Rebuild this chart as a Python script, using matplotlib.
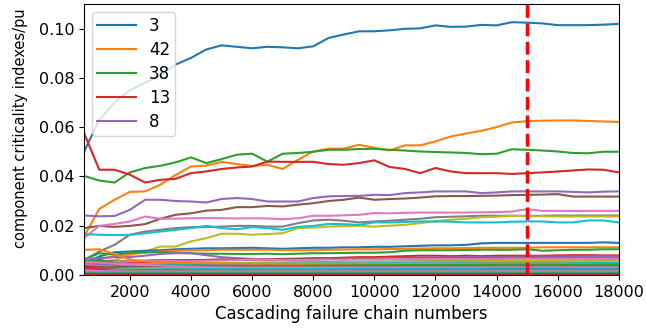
import matplotlib
matplotlib.use("Agg")
import matplotlib.pyplot as plt

# chain numbers (x axis)
chains = list(range(500, 18001, 500))

legend_labels = ['3', '42', '38', '13', '8']

comp_3 = [0.050, 0.063, 0.070, 0.075, 0.078, 0.081, 0.0854, 0.0881, 0.0915, 0.0932,
          0.0926, 0.0920, 0.0926, 0.0924, 0.0920, 0.0928, 0.0962, 0.0976, 0.0989, 0.0989,
          0.0993, 0.0999, 0.1001, 0.1013, 0.1007, 0.1008, 0.1015, 0.1013, 0.1026, 0.1024,
          0.1021, 0.1014, 0.1014, 0.1014, 0.1016, 0.1019]
comp_42 = [0.0155, 0.0268, 0.0305, 0.0337, 0.0339, 0.0366, 0.0406, 0.0440, 0.0444, 0.0459,
           0.0450, 0.0442, 0.0447, 0.0430, 0.0467, 0.0501, 0.0512, 0.0513, 0.0528, 0.0516,
           0.0505, 0.0526, 0.0526, 0.0542, 0.0562, 0.0574, 0.0585, 0.0600, 0.0619, 0.0624,
           0.0626, 0.0627, 0.0627, 0.0625, 0.0623, 0.0621]
comp_38 = [0.0402, 0.0383, 0.0375, 0.0416, 0.0434, 0.0443, 0.0457, 0.0477, 0.0454, 0.0470,
           0.0488, 0.0492, 0.0460, 0.0492, 0.0495, 0.0500, 0.0508, 0.0508, 0.0511, 0.0512,
           0.0508, 0.0505, 0.0501, 0.0499, 0.0497, 0.0495, 0.0490, 0.0492, 0.0510, 0.0508,
           0.0505, 0.0501, 0.0495, 0.0494, 0.0500, 0.0500]
comp_13 = [0.0576, 0.0427, 0.0427, 0.0407, 0.0375, 0.0386, 0.0390, 0.0413, 0.0420, 0.0430,
           0.0436, 0.0440, 0.0460, 0.0459, 0.0459, 0.0459, 0.0450, 0.0447, 0.0454, 0.0465,
           0.0438, 0.0430, 0.0413, 0.0434, 0.0420, 0.0413, 0.0413, 0.0413, 0.0410, 0.0413,
           0.0416, 0.0420, 0.0424, 0.0428, 0.0427, 0.0416]
comp_8 = [0.0241, 0.0238, 0.0239, 0.0264, 0.0305, 0.0305, 0.0300, 0.0298, 0.0294, 0.0308,
          0.0312, 0.0308, 0.0298, 0.0298, 0.0298, 0.0312, 0.0319, 0.0320, 0.0321, 0.0325,
          0.0324, 0.0332, 0.0335, 0.0339, 0.0339, 0.0339, 0.0332, 0.0335, 0.0339, 0.0339,
          0.0339, 0.0339, 0.0337, 0.0335, 0.0338, 0.0339]

# remaining components, in plotting order
other_comps = [
    [0.0190, 0.0199, 0.0195, 0.0199, 0.0206, 0.0228, 0.0244, 0.0250, 0.0261, 0.0264,
     0.0275, 0.0275, 0.0280, 0.0278, 0.0285, 0.0291, 0.0300, 0.0305, 0.0314, 0.0305,
     0.0308, 0.0310, 0.0314, 0.0319, 0.0320, 0.0320, 0.0321, 0.0322, 0.0324, 0.0325,
     0.0326, 0.0328, 0.0318, 0.0318, 0.0318, 0.0318],
    [0.0149, 0.0199, 0.0207, 0.0217, 0.0237, 0.0228, 0.0228, 0.0230, 0.0231, 0.0230,
     0.0229, 0.0230, 0.0229, 0.0226, 0.0230, 0.0240, 0.0240, 0.0242, 0.0244, 0.0251,
     0.0250, 0.0252, 0.0253, 0.0253, 0.0253, 0.0253, 0.0254, 0.0255, 0.0257, 0.0267,
     0.0260, 0.0260, 0.0259, 0.0260, 0.0260, 0.0260],
    [0.0060, 0.0095, 0.0122, 0.0163, 0.0176, 0.0183, 0.0190, 0.0194, 0.0194, 0.0196,
     0.0199, 0.0199, 0.0196, 0.0196, 0.0210, 0.0221, 0.0224, 0.0220, 0.0213, 0.0217,
     0.0220, 0.0224, 0.0228, 0.0234, 0.0236, 0.0238, 0.0240, 0.0240, 0.0240, 0.0240,
     0.0240, 0.0241, 0.0241, 0.0241, 0.0241, 0.0241],
    [0.0047, 0.0054, 0.0060, 0.0081, 0.0095, 0.0115, 0.0115, 0.0136, 0.0149, 0.0167,
     0.0167, 0.0163, 0.0166, 0.0169, 0.0190, 0.0192, 0.0196, 0.0198, 0.0199, 0.0196,
     0.0200, 0.0203, 0.0210, 0.0218, 0.0224, 0.0228, 0.0234, 0.0236, 0.0240, 0.0238,
     0.0238, 0.0237, 0.0237, 0.0237, 0.0237, 0.0237],
    [0.0165, 0.0163, 0.0162, 0.0162, 0.0169, 0.0176, 0.0183, 0.0190, 0.0199, 0.0190,
     0.0185, 0.0194, 0.0190, 0.0183, 0.0195, 0.0199, 0.0207, 0.0206, 0.0203, 0.0213,
     0.0213, 0.0215, 0.0217, 0.0217, 0.0216, 0.0213, 0.0213, 0.0213, 0.0216, 0.0217,
     0.0217, 0.0213, 0.0213, 0.0221, 0.0221, 0.0213],
    [0.0045, 0.0075, 0.0092, 0.0095, 0.0098, 0.0100, 0.0104, 0.0106, 0.0108, 0.0108,
     0.0109, 0.0110, 0.0108, 0.0106, 0.0108, 0.0110, 0.0110, 0.0112, 0.0112, 0.0114,
     0.0114, 0.0116, 0.0118, 0.0120, 0.0120, 0.0122, 0.0128, 0.0130, 0.0130, 0.0130,
     0.0130, 0.0130, 0.0130, 0.0130, 0.0132, 0.0130],
    [0.0050, 0.0065, 0.0075, 0.0085, 0.0090, 0.0095, 0.0098, 0.0100, 0.0100, 0.0102,
     0.0102, 0.0102, 0.0102, 0.0100, 0.0100, 0.0100, 0.0102, 0.0103, 0.0104, 0.0104,
     0.0105, 0.0106, 0.0107, 0.0108, 0.0108, 0.0109, 0.0110, 0.0110, 0.0110, 0.0110,
     0.0112, 0.0112, 0.0112, 0.0112, 0.0112, 0.0112],
    [0.0062, 0.0088, 0.0082, 0.0090, 0.0092, 0.0092, 0.0090, 0.0088, 0.0086, 0.0086,
     0.0085, 0.0085, 0.0086, 0.0084, 0.0086, 0.0088, 0.0088, 0.0089, 0.0090, 0.0090,
     0.0092, 0.0098, 0.0100, 0.0100, 0.0100, 0.0101, 0.0102, 0.0102, 0.0102, 0.0104,
     0.0098, 0.0100, 0.0102, 0.0102, 0.0104, 0.0104],
    [0.0042, 0.0045, 0.0048, 0.0050, 0.0052, 0.0055, 0.0058, 0.0060, 0.0060, 0.0062,
     0.0062, 0.0064, 0.0064, 0.0065, 0.0066, 0.0068, 0.0068, 0.0070, 0.0072, 0.0072,
     0.0074, 0.0076, 0.0078, 0.0078, 0.0076, 0.0078, 0.0076, 0.0078, 0.0078, 0.0078,
     0.0078, 0.0079, 0.0080, 0.0080, 0.0079, 0.0079],
    [0.0065, 0.0068, 0.0072, 0.0072, 0.0078, 0.0085, 0.0088, 0.0088, 0.0080, 0.0072,
     0.0068, 0.0065, 0.0062, 0.0062, 0.0063, 0.0064, 0.0065, 0.0066, 0.0066, 0.0067,
     0.0068, 0.0069, 0.0070, 0.0070, 0.0071, 0.0072, 0.0072, 0.0072, 0.0073, 0.0074,
     0.0074, 0.0074, 0.0075, 0.0075, 0.0075, 0.0075],
    [0.0052, 0.0055, 0.0055, 0.0056, 0.0058, 0.0060, 0.0060, 0.0060, 0.0061, 0.0062,
     0.0062, 0.0062, 0.0063, 0.0063, 0.0064, 0.0064, 0.0065, 0.0065, 0.0066, 0.0066,
     0.0066, 0.0067, 0.0067, 0.0068, 0.0068, 0.0068, 0.0069, 0.0069, 0.0070, 0.0070,
     0.0070, 0.0069, 0.0069, 0.0068, 0.0068, 0.0068],
    [0.0040, 0.0048, 0.0052, 0.0055, 0.0056, 0.0057, 0.0056, 0.0055, 0.0057, 0.0058,
     0.0060, 0.0062, 0.0062, 0.0060, 0.0060, 0.0061, 0.0062, 0.0062, 0.0063, 0.0063,
     0.0064, 0.0064, 0.0064, 0.0065, 0.0065, 0.0065, 0.0065, 0.0065, 0.0066, 0.0066,
     0.0066, 0.0066, 0.0066, 0.0066, 0.0066, 0.0066],
    [0.0030, 0.0035, 0.0038, 0.0040, 0.0042, 0.0043, 0.0044, 0.0045, 0.0046, 0.0047,
     0.0048, 0.0049, 0.0050, 0.0050, 0.0051, 0.0052, 0.0052, 0.0053, 0.0053, 0.0054,
     0.0054, 0.0055, 0.0055, 0.0056, 0.0056, 0.0057, 0.0057, 0.0058, 0.0058, 0.0058,
     0.0058, 0.0058, 0.0058, 0.0058, 0.0058, 0.0058],
    [0.0020, 0.0028, 0.0035, 0.0038, 0.0040, 0.0042, 0.0044, 0.0045, 0.0046, 0.0047,
     0.0048, 0.0048, 0.0049, 0.0049, 0.0050, 0.0050, 0.0051, 0.0051, 0.0052, 0.0052,
     0.0053, 0.0053, 0.0054, 0.0054, 0.0055, 0.0055, 0.0056, 0.0056, 0.0057, 0.0057,
     0.0057, 0.0057, 0.0056, 0.0056, 0.0056, 0.0056],
    [0.0035, 0.0038, 0.0040, 0.0041, 0.0042, 0.0042, 0.0043, 0.0043, 0.0044, 0.0044,
     0.0045, 0.0045, 0.0045, 0.0046, 0.0046, 0.0046, 0.0047, 0.0047, 0.0047, 0.0048,
     0.0048, 0.0048, 0.0049, 0.0049, 0.0049, 0.0050, 0.0050, 0.0050, 0.0050, 0.0050,
     0.0050, 0.0050, 0.0049, 0.0049, 0.0048, 0.0048],
    [0.0010, 0.0025, 0.0030, 0.0032, 0.0034, 0.0035, 0.0036, 0.0037, 0.0038, 0.0038,
     0.0039, 0.0039, 0.0040, 0.0040, 0.0040, 0.0041, 0.0041, 0.0041, 0.0042, 0.0042,
     0.0042, 0.0042, 0.0043, 0.0043, 0.0043, 0.0043, 0.0044, 0.0044, 0.0044, 0.0044,
     0.0044, 0.0044, 0.0044, 0.0044, 0.0044, 0.0044],
    [0.0102, 0.0104, 0.0085, 0.0062, 0.0055, 0.0052, 0.0050, 0.0048, 0.0047, 0.0046,
     0.0046, 0.0045, 0.0045, 0.0044, 0.0044, 0.0044, 0.0044, 0.0045, 0.0045, 0.0045,
     0.0045, 0.0045, 0.0045, 0.0045, 0.0045, 0.0045, 0.0046, 0.0046, 0.0046, 0.0047,
     0.0046, 0.0046, 0.0045, 0.0044, 0.0043, 0.0042],
    [0.0055, 0.0062, 0.0048, 0.0042, 0.0040, 0.0038, 0.0037, 0.0037, 0.0036, 0.0036,
     0.0036, 0.0036, 0.0037, 0.0037, 0.0037, 0.0038, 0.0038, 0.0038, 0.0039, 0.0039,
     0.0039, 0.0040, 0.0040, 0.0040, 0.0040, 0.0040, 0.0041, 0.0041, 0.0041, 0.0041,
     0.0041, 0.0041, 0.0041, 0.0041, 0.0041, 0.0041],
    [0.0035, 0.0030, 0.0022, 0.0018, 0.0016, 0.0015, 0.0015, 0.0014, 0.0014, 0.0014,
     0.0014, 0.0013, 0.0013, 0.0013, 0.0013, 0.0013, 0.0013, 0.0013, 0.0013, 0.0012,
     0.0012, 0.0012, 0.0012, 0.0012, 0.0012, 0.0012, 0.0012, 0.0012, 0.0012, 0.0012,
     0.0012, 0.0012, 0.0012, 0.0012, 0.0012, 0.0012],
    [0.0048, 0.0045, 0.0042, 0.0040, 0.0038, 0.0036, 0.0035, 0.0034, 0.0034, 0.0034,
     0.0033, 0.0033, 0.0033, 0.0033, 0.0033, 0.0034, 0.0034, 0.0034, 0.0034, 0.0034,
     0.0035, 0.0035, 0.0035, 0.0035, 0.0035, 0.0035, 0.0035, 0.0036, 0.0036, 0.0036,
     0.0036, 0.0036, 0.0036, 0.0036, 0.0036, 0.0036],
    [0.0028, 0.0030, 0.0031, 0.0031, 0.0032, 0.0032, 0.0032, 0.0033, 0.0033, 0.0033,
     0.0033, 0.0033, 0.0033, 0.0033, 0.0033, 0.0033, 0.0033, 0.0034, 0.0034, 0.0034,
     0.0034, 0.0034, 0.0034, 0.0034, 0.0034, 0.0034, 0.0034, 0.0034, 0.0034, 0.0034,
     0.0034, 0.0034, 0.0034, 0.0034, 0.0034, 0.0034],
    [0.0052, 0.0050, 0.0046, 0.0042, 0.0040, 0.0038, 0.0035, 0.0033, 0.0032, 0.0031,
     0.0030, 0.0030, 0.0030, 0.0030, 0.0030, 0.0030, 0.0030, 0.0030, 0.0030, 0.0030,
     0.0030, 0.0031, 0.0031, 0.0031, 0.0031, 0.0031, 0.0031, 0.0031, 0.0031, 0.0031,
     0.0031, 0.0031, 0.0031, 0.0031, 0.0031, 0.0031],
    [0.0015, 0.0020, 0.0024, 0.0026, 0.0027, 0.0028, 0.0028, 0.0028, 0.0029, 0.0029,
     0.0029, 0.0029, 0.0029, 0.0029, 0.0029, 0.0029, 0.0029, 0.0030, 0.0030, 0.0030,
     0.0030, 0.0030, 0.0030, 0.0030, 0.0030, 0.0030, 0.0030, 0.0030, 0.0030, 0.0030,
     0.0030, 0.0030, 0.0030, 0.0030, 0.0030, 0.0030],
    [0.0010, 0.0015, 0.0020, 0.0025, 0.0026, 0.0026, 0.0026, 0.0026, 0.0027, 0.0027,
     0.0027, 0.0027, 0.0027, 0.0027, 0.0027, 0.0027, 0.0028, 0.0028, 0.0028, 0.0028,
     0.0028, 0.0028, 0.0028, 0.0028, 0.0028, 0.0028, 0.0028, 0.0028, 0.0028, 0.0028,
     0.0028, 0.0028, 0.0028, 0.0028, 0.0028, 0.0028],
    [0.0012, 0.0018, 0.0020, 0.0022, 0.0022, 0.0023, 0.0023, 0.0023, 0.0024, 0.0024,
     0.0024, 0.0024, 0.0024, 0.0024, 0.0024, 0.0024, 0.0025, 0.0025, 0.0025, 0.0025,
     0.0025, 0.0025, 0.0025, 0.0025, 0.0026, 0.0026, 0.0026, 0.0026, 0.0026, 0.0026,
     0.0026, 0.0026, 0.0025, 0.0025, 0.0025, 0.0025],
    [0.0008, 0.0014, 0.0016, 0.0017, 0.0018, 0.0018, 0.0019, 0.0019, 0.0019, 0.0019,
     0.0020, 0.0020, 0.0020, 0.0020, 0.0020, 0.0020, 0.0020, 0.0021, 0.0021, 0.0021,
     0.0021, 0.0021, 0.0021, 0.0021, 0.0021, 0.0021, 0.0021, 0.0022, 0.0022, 0.0022,
     0.0022, 0.0022, 0.0022, 0.0022, 0.0022, 0.0022],
    [0.0005, 0.0010, 0.0012, 0.0014, 0.0015, 0.0016, 0.0016, 0.0017, 0.0017, 0.0017,
     0.0017, 0.0018, 0.0018, 0.0018, 0.0018, 0.0018, 0.0018, 0.0018, 0.0018, 0.0018,
     0.0018, 0.0018, 0.0018, 0.0018, 0.0018, 0.0018, 0.0018, 0.0018, 0.0018, 0.0018,
     0.0018, 0.0018, 0.0018, 0.0018, 0.0018, 0.0018],
    [0.0020, 0.0018, 0.0017, 0.0016, 0.0016, 0.0015, 0.0015, 0.0015, 0.0015, 0.0015,
     0.0015, 0.0015, 0.0015, 0.0015, 0.0015, 0.0015, 0.0015, 0.0015, 0.0015, 0.0015,
     0.0015, 0.0015, 0.0015, 0.0015, 0.0015, 0.0015, 0.0015, 0.0015, 0.0015, 0.0015,
     0.0015, 0.0015, 0.0015, 0.0015, 0.0015, 0.0015],
    [0.0030, 0.0022, 0.0015, 0.0011, 0.0010, 0.0009, 0.0009, 0.0009, 0.0009, 0.0009,
     0.0009, 0.0009, 0.0009, 0.0009, 0.0009, 0.0009, 0.0009, 0.0009, 0.0009, 0.0009,
     0.0009, 0.0009, 0.0009, 0.0009, 0.0009, 0.0009, 0.0009, 0.0009, 0.0009, 0.0009,
     0.0009, 0.0009, 0.0009, 0.0009, 0.0008, 0.0008],
    [0.0012, 0.0013, 0.0013, 0.0012, 0.0012, 0.0012, 0.0012, 0.0012, 0.0012, 0.0012,
     0.0012, 0.0012, 0.0012, 0.0012, 0.0012, 0.0012, 0.0012, 0.0012, 0.0012, 0.0012,
     0.0012, 0.0012, 0.0012, 0.0012, 0.0012, 0.0012, 0.0012, 0.0012, 0.0012, 0.0012,
     0.0012, 0.0012, 0.0012, 0.0012, 0.0012, 0.0012],
    [0.0006, 0.0008, 0.0009, 0.0010, 0.0010, 0.0010, 0.0010, 0.0010, 0.0010, 0.0010,
     0.0010, 0.0010, 0.0010, 0.0010, 0.0010, 0.0010, 0.0010, 0.0010, 0.0010, 0.0010,
     0.0010, 0.0010, 0.0010, 0.0010, 0.0010, 0.0010, 0.0010, 0.0010, 0.0010, 0.0010,
     0.0010, 0.0010, 0.0010, 0.0010, 0.0010, 0.0010],
    [0.0018, 0.0016, 0.0015, 0.0014, 0.0014, 0.0014, 0.0014, 0.0014, 0.0014, 0.0014,
     0.0014, 0.0014, 0.0014, 0.0014, 0.0014, 0.0014, 0.0014, 0.0014, 0.0014, 0.0014,
     0.0014, 0.0014, 0.0014, 0.0014, 0.0014, 0.0014, 0.0014, 0.0014, 0.0014, 0.0014,
     0.0014, 0.0014, 0.0014, 0.0014, 0.0014, 0.0014],
    [0.0004, 0.0005, 0.0006, 0.0006, 0.0006, 0.0006, 0.0006, 0.0006, 0.0006, 0.0006,
     0.0006, 0.0006, 0.0006, 0.0006, 0.0006, 0.0006, 0.0006, 0.0006, 0.0006, 0.0006,
     0.0006, 0.0006, 0.0006, 0.0006, 0.0006, 0.0006, 0.0006, 0.0006, 0.0006, 0.0006,
     0.0006, 0.0006, 0.0006, 0.0006, 0.0006, 0.0006],
    [0.0005, 0.0007, 0.0008, 0.0009, 0.0009, 0.0009, 0.0009, 0.0009, 0.0009, 0.0009,
     0.0009, 0.0009, 0.0009, 0.0009, 0.0009, 0.0009, 0.0009, 0.0009, 0.0009, 0.0009,
     0.0009, 0.0009, 0.0009, 0.0009, 0.0009, 0.0009, 0.0009, 0.0009, 0.0009, 0.0009,
     0.0009, 0.0009, 0.0009, 0.0009, 0.0009, 0.0009],
    [0.0008, 0.0010, 0.0011, 0.0011, 0.0011, 0.0011, 0.0011, 0.0011, 0.0011, 0.0011,
     0.0011, 0.0011, 0.0011, 0.0011, 0.0011, 0.0011, 0.0011, 0.0011, 0.0011, 0.0011,
     0.0011, 0.0011, 0.0011, 0.0011, 0.0011, 0.0011, 0.0011, 0.0011, 0.0011, 0.0011,
     0.0011, 0.0011, 0.0011, 0.0011, 0.0011, 0.0011],
    [0.0002, 0.0003, 0.0004, 0.0004, 0.0004, 0.0004, 0.0004, 0.0004, 0.0004, 0.0004,
     0.0004, 0.0004, 0.0004, 0.0004, 0.0004, 0.0004, 0.0004, 0.0004, 0.0004, 0.0004,
     0.0004, 0.0004, 0.0004, 0.0004, 0.0004, 0.0004, 0.0004, 0.0004, 0.0004, 0.0004,
     0.0004, 0.0004, 0.0004, 0.0004, 0.0004, 0.0004],
    [0.0003, 0.0003, 0.0003, 0.0003, 0.0003, 0.0003, 0.0003, 0.0003, 0.0003, 0.0003,
     0.0003, 0.0003, 0.0003, 0.0003, 0.0003, 0.0003, 0.0003, 0.0003, 0.0003, 0.0003,
     0.0003, 0.0003, 0.0003, 0.0003, 0.0003, 0.0003, 0.0003, 0.0003, 0.0003, 0.0003,
     0.0003, 0.0003, 0.0003, 0.0003, 0.0003, 0.0003],
    [0.0006, 0.0005, 0.0005, 0.0005, 0.0005, 0.0005, 0.0005, 0.0005, 0.0005, 0.0005,
     0.0005, 0.0005, 0.0005, 0.0005, 0.0005, 0.0005, 0.0005, 0.0005, 0.0005, 0.0005,
     0.0005, 0.0005, 0.0005, 0.0005, 0.0005, 0.0005, 0.0005, 0.0005, 0.0005, 0.0005,
     0.0005, 0.0005, 0.0005, 0.0005, 0.0005, 0.0005],
    [0.0002, 0.0002, 0.0002, 0.0002, 0.0002, 0.0002, 0.0002, 0.0002, 0.0002, 0.0002,
     0.0002, 0.0002, 0.0002, 0.0002, 0.0002, 0.0002, 0.0002, 0.0002, 0.0002, 0.0002,
     0.0002, 0.0002, 0.0002, 0.0002, 0.0002, 0.0002, 0.0002, 0.0002, 0.0002, 0.0002,
     0.0002, 0.0002, 0.0002, 0.0002, 0.0002, 0.0002],
]

threshold = 15000


def main():
    plt.rcParams['font.size'] = 12
    fig = plt.figure(figsize=(6.46, 3.3), dpi=100)
    ax = fig.add_axes([0.130, 0.167, 0.828, 0.821])

    lines = []
    for vals in [comp_3, comp_42, comp_38, comp_13, comp_8] + other_comps:
        lines.append(ax.plot(chains, vals, linewidth=1.5)[0])

    ax.axvline(threshold, color='r', linestyle='--', linewidth=2.5)

    ax.set_xlim(500, 18000)
    ax.set_ylim(0, 0.11)
    ax.set_xticks(range(2000, 18001, 2000))
    ax.set_yticks([0.0, 0.02, 0.04, 0.06, 0.08, 0.10])
    ax.tick_params(labelsize=11.5)

    ax.set_xlabel('Cascading failure chain numbers', fontsize=12)
    ax.set_ylabel('component criticality indexes/pu', fontsize=10.5, loc='bottom')
    ax.yaxis.set_label_coords(-0.104, 0.10)

    ax.legend(lines[:5], legend_labels, loc='upper left', fontsize=12,
              labelspacing=0.35, borderpad=0.3, handlelength=2.3)

    fig.savefig('out.png', dpi=100)


if __name__ == '__main__':
    main()
